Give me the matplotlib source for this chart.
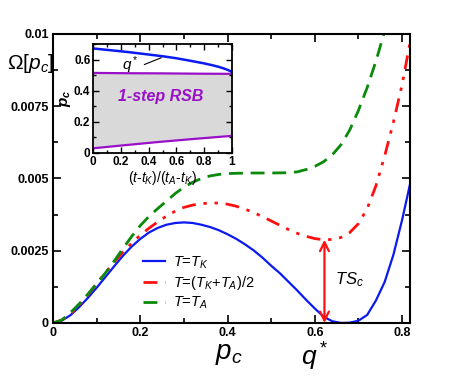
"""Free energy landscape Omega[p_c] with 1-step RSB inset."""

import matplotlib
matplotlib.use("Agg")
import matplotlib.pyplot as plt
from matplotlib.ticker import MultipleLocator

plt.rcParams["font.family"] = ["Liberation Sans", "DejaVu Sans"]
plt.rcParams["mathtext.fontset"] = "custom"
plt.rcParams["mathtext.rm"] = "Liberation Sans"
plt.rcParams["mathtext.it"] = "Liberation Sans:italic"
plt.rcParams["mathtext.bf"] = "Liberation Sans:bold:italic"

# ---- main panel data ----
p_tk = [0.0, 0.02, 0.04, 0.06, 0.08, 0.10, 0.12, 0.14, 0.16, 0.18, 0.20, 0.22,
        0.24, 0.26, 0.28, 0.30, 0.32, 0.34, 0.36, 0.38, 0.40, 0.42, 0.44, 0.46,
        0.48, 0.50, 0.52, 0.54, 0.56, 0.58, 0.60, 0.62, 0.64, 0.66, 0.68, 0.70,
        0.72, 0.74, 0.76, 0.78, 0.80, 0.818]
om_tk = [0.0, 0.00008, 0.00027, 0.00055, 0.00087, 0.00122, 0.00159, 0.00196,
         0.00232, 0.00264, 0.00291, 0.00313, 0.00329, 0.0034, 0.00346, 0.00348,
         0.00346, 0.0034, 0.00332, 0.00321, 0.00307, 0.00291, 0.00272, 0.00251,
         0.00226, 0.00198, 0.00172, 0.00142, 0.00112, 0.0008, 0.0005, 0.00022,
         0.00006, 0.0, 0.00001, 0.00008, 0.00028, 0.00078, 0.00142, 0.00236,
         0.00357, 0.0048]

p_mid = [0.0, 0.02, 0.04, 0.06, 0.08, 0.10, 0.12, 0.14, 0.16, 0.18, 0.20, 0.22,
         0.24, 0.26, 0.28, 0.30, 0.32, 0.34, 0.36, 0.38, 0.40, 0.42, 0.44, 0.46,
         0.48, 0.50, 0.52, 0.54, 0.56, 0.58, 0.60, 0.62, 0.64, 0.66, 0.68, 0.70,
         0.72, 0.74, 0.76, 0.78, 0.80, 0.818]
om_mid = [0.0, 0.0001, 0.0003, 0.00062, 0.00098, 0.00136, 0.00174, 0.0021,
          0.00245, 0.00276, 0.00304, 0.00328, 0.0035, 0.0037, 0.00387, 0.004,
          0.00408, 0.00413, 0.00415, 0.00415, 0.00411, 0.00404, 0.00394,
          0.00382, 0.00368, 0.00353, 0.00338, 0.00323, 0.0031, 0.003, 0.00292,
          0.00288, 0.00289, 0.00296, 0.00313, 0.00344, 0.00396, 0.00475,
          0.00578, 0.00695, 0.00825, 0.0097]

p_ta = [0.0, 0.02, 0.04, 0.06, 0.08, 0.10, 0.12, 0.14, 0.16, 0.18, 0.20, 0.22,
        0.24, 0.26, 0.28, 0.30, 0.32, 0.34, 0.36, 0.38, 0.40, 0.42, 0.46, 0.50,
        0.54, 0.56, 0.58, 0.60, 0.62, 0.64, 0.66, 0.68, 0.70, 0.72, 0.74, 0.76]
om_ta = [0.0, 0.0001, 0.00036, 0.00066, 0.001, 0.00136, 0.00173, 0.00214,
         0.00257, 0.00299, 0.00337, 0.00369, 0.00396, 0.00422, 0.00448, 0.0047,
         0.00487, 0.005, 0.00509, 0.00514, 0.00517, 0.00518, 0.00519, 0.00519,
         0.0052, 0.00523, 0.00531, 0.00542, 0.00558, 0.00582, 0.00617, 0.00668,
         0.00736, 0.00815, 0.00906, 0.0101]

q_star = 0.622
ts_top = 0.00288

# ---- inset data ----
t_red = [0.0, 0.1, 0.25, 0.4, 0.5, 0.6, 0.7, 0.8, 0.86, 0.9, 0.94, 0.97, 1.0]
q_line = [0.671, 0.662, 0.648, 0.632, 0.621, 0.608, 0.592, 0.575, 0.563,
          0.554, 0.543, 0.533, 0.52]
t_rsb = [0.0, 0.25, 0.5, 0.75, 1.0]
rsb_hi = [0.514, 0.512, 0.511, 0.509, 0.508]
rsb_lo = [0.03, 0.052, 0.073, 0.092, 0.11]

PURPLE = "#9a10c8"
BLUE = "#0a1af0"
RED = "#ff1010"
GREEN = "#0a8a0a"

fig = plt.figure(figsize=(4.63, 3.82), dpi=100)
ax = fig.add_axes([0.1145, 0.1545, 0.771, 0.7565])

ax.plot(p_tk, om_tk, color=BLUE, lw=1.6, label=r"$T$=$T_K$")
ax.plot(p_mid, om_mid, color=RED, lw=2.0, dashes=(5, 2.8, 1.2, 2.8, 1.2, 2.8),
        label=r"$T$=($T_K$+$T_A$)/2")
ax.plot(p_ta, om_ta, color=GREEN, lw=2.0, dashes=(5, 2.8), label=r"$T$=$T_A$")

ax.annotate("", xy=(q_star, 0.0), xytext=(q_star, ts_top),
            arrowprops=dict(arrowstyle="<->", color=RED, lw=1.6,
                            shrinkA=0, shrinkB=0, mutation_scale=16))
ax.text(0.646, 0.0015, r"$TS_c$", fontsize=12, va="center")

ax.set_xlim(0, 0.818)
ax.set_ylim(0, 0.01)
ax.xaxis.set_minor_locator(MultipleLocator(0.1))
ax.yaxis.set_minor_locator(MultipleLocator(0.00125))
ax.set_xticks([0, 0.2, 0.4, 0.6, 0.8])
ax.set_xticklabels(["0", "0.2", "0.4", "0.6", "0.8"])
ax.set_yticks([0, 0.0025, 0.005, 0.0075, 0.01])
ax.set_yticklabels(["0", "0.0025", "0.005", "0.0075", "0.01"])
ax.tick_params(which="both", direction="in", top=True, right=True, width=1.2)
ax.tick_params(which="major", length=6, labelsize=9, pad=3)
ax.tick_params(which="minor", length=3.5)
for lab in ax.get_xticklabels() + ax.get_yticklabels():
    lab.set_fontweight("bold")
for sp in ax.spines.values():
    sp.set_linewidth(1.5)

fig.text(0.015, 0.835, r"$\Omega[p_c]$", fontsize=15, ha="left", va="center")
fig.text(0.495, 0.072, r"$p_c$", fontsize=20, ha="center", va="center")
fig.text(0.68, 0.066, r"$q^*$", fontsize=19, ha="center", va="center")

ax.legend(loc="lower left", bbox_to_anchor=(0.245, 0.03), frameon=False,
          fontsize=10.5, handlelength=1.5, handletextpad=0.5,
          labelspacing=0.22, borderpad=0.2, borderaxespad=0)

# ---- inset ----
ins = fig.add_axes([0.201, 0.5995, 0.3, 0.2855])
ins.fill_between(t_rsb, rsb_lo, rsb_hi, color="#d9d9d9", lw=0)
ins.plot(t_rsb, rsb_hi, color=PURPLE, lw=1.6)
ins.plot(t_rsb, rsb_lo, color=PURPLE, lw=1.6)
ins.plot(t_red, q_line, color=BLUE, lw=1.8)
ins.plot([0.37, 0.49], [0.568, 0.611], color="black", lw=0.8)
ins.text(0.27, 0.565, r"$q^*$", fontsize=11, ha="center", va="center",
         zorder=5)
ins.text(0.49, 0.36, "1-step RSB", fontsize=11.5, color=PURPLE,
         fontweight="bold", fontstyle="italic", ha="center", va="center")

ins.set_xlim(0, 1)
ins.set_ylim(0, 0.7)
ins.xaxis.set_minor_locator(MultipleLocator(0.1))
ins.yaxis.set_minor_locator(MultipleLocator(0.1))
ins.set_xticks([0, 0.2, 0.4, 0.6, 0.8, 1.0])
ins.set_xticklabels(["0", "0.2", "0.4", "0.6", "0.8", "1"])
ins.set_yticks([0, 0.2, 0.4, 0.6])
ins.set_yticklabels(["0", "0.2", "0.4", "0.6"])
ins.tick_params(which="both", direction="in", top=True, right=True, width=1.0)
ins.tick_params(which="major", length=4, labelsize=8.5, pad=2)
ins.tick_params(which="minor", length=2)
for lab in ins.get_xticklabels() + ins.get_yticklabels():
    lab.set_fontweight("bold")
for sp in ins.spines.values():
    sp.set_linewidth(1.3)
ins.set_ylabel(r"$\mathbf{p_c}$", fontsize=11, labelpad=1)
ins.set_xlabel(r"($t$-$t_K$)/($t_A$-$t_K$)", fontsize=10, labelpad=1)

fig.savefig("out.png", dpi=100)
